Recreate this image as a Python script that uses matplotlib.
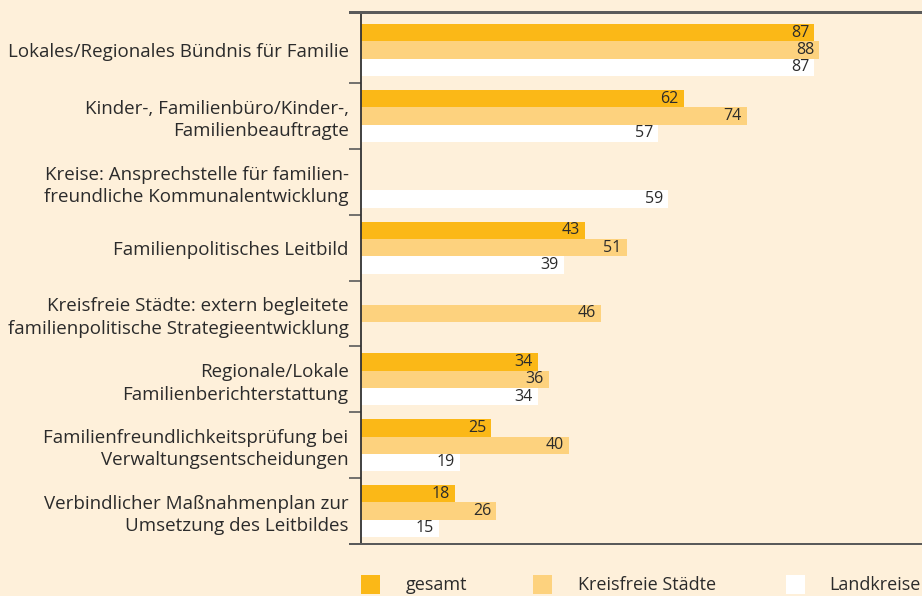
import matplotlib
matplotlib.use("Agg")
import matplotlib.pyplot as plt
from matplotlib.patches import Rectangle
import numpy as np

categories = [
    "Lokales/Regionales Bündnis für Familie",
    "Kinder-, Familienbüro/Kinder-,\nFamilienbeauftragte",
    "Kreise: Ansprechstelle für familien-\nfreundliche Kommunalentwicklung",
    "Familienpolitisches Leitbild",
    "Kreisfreie Städte: extern begleitete\nfamilienpolitische Strategieentwicklung",
    "Regionale/Lokale\nFamilienberichterstattung",
    "Familienfreundlichkeitsprüfung bei\nVerwaltungsentscheidungen",
    "Verbindlicher Maßnahmenplan zur\nUmsetzung des Leitbildes",
]
gesamt = [87, 62, None, 43, None, 34, 25, 18]
kreisfreie = [88, 74, None, 51, 46, 36, 40, 26]
landkreise = [87, 57, 59, 39, None, 34, 19, 15]
series_names = ["gesamt", "Kreisfreie Städte", "Landkreise"]

BG = "#FEF0DA"
C_G = "#FBB817"
C_K = "#FDD27E"
C_L = "#FFFFFF"
TXT = "#2B2B2B"
RULE = "#5A5A5A"

plt.rcParams['font.family'] = ['Open Sans', 'DejaVu Sans']

W, H = 922, 596
fig = plt.figure(figsize=(W/100, H/100), dpi=100, facecolor=BG)
ax = fig.add_axes([361/W, 1-544/H, 1-361/W, (544-12.5)/H])
ax.set_facecolor(BG)

n = len(categories)
y = np.arange(n)
h = 0.262
series = [gesamt, kreisfreie, landkreise]
colors = [C_G, C_K, C_L]
offsets = [-h, 0, h]
for vals, col, off in zip(series, colors, offsets):
    for i, v in enumerate(vals):
        if v is None:
            continue
        ax.barh(y[i] + off, v, height=h, color=col, edgecolor='none')
        ax.text(v - 1.0, y[i] + off, str(v), ha='right', va='center',
                fontsize=11.5, color=TXT)

ylo, yhi = 7.50, -0.57
ax.set_ylim(ylo, yhi)
ax.set_xlim(0, (W - 361) / 5.21)
ax.set_yticks(y)
ax.set_yticklabels(categories, fontsize=13.5, color=TXT, linespacing=1.3)
for lab in ax.get_yticklabels():
    lab.set_horizontalalignment('right')
ax.set_yticks(np.arange(0.5, n - 1, 1.0), minor=True)
ax.tick_params(axis='y', which='major', length=0, pad=9)
ax.tick_params(axis='y', which='minor', length=8.6, width=1.2, color=RULE)
ax.set_xticks([])
ax.spines['right'].set_visible(False)
for s in ['top', 'bottom']:
    ax.spines[s].set_color(RULE)
    ax.spines[s].set_linewidth(1.4)
ax.spines['left'].set_color('#333333')
ax.spines['left'].set_linewidth(1.3)

# top and bottom rules as thin filled strips across the full width, from 12 px left of the axis
for ypix in [12.5, 544]:
    fig.patches.append(Rectangle((349/W, 1-(ypix+1)/H), (W-349)/W, 2/H,
                                 transform=fig.transFigure, facecolor=RULE,
                                 edgecolor='none', zorder=10))

# legend
leg_x = [361, 533, 786]
txt_x = [406, 578, 829]
for name, col, lx, tx in zip(series_names, colors, leg_x, txt_x):
    fig.patches.append(Rectangle((lx/W, 1-594/H), 19/W, 19/H, transform=fig.transFigure,
                                 facecolor=col, edgecolor='none'))
    fig.text(tx/W, 1-585/H, name, ha='left', va='center', fontsize=13, color=TXT)

fig.savefig("out.png", dpi=100, facecolor=BG)
